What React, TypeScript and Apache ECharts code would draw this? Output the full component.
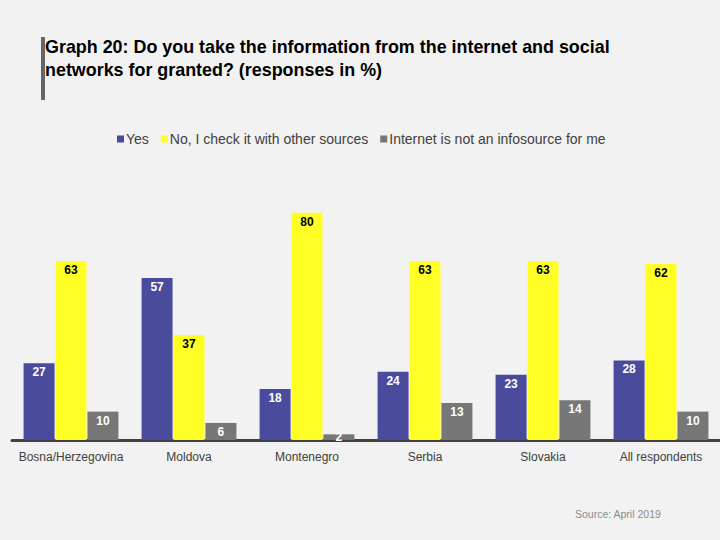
import React, { useEffect, useRef } from "react";
import * as echarts from "echarts";

const categories = ["Bosna/Herzegovina", "Moldova", "Montenegro", "Serbia", "Slovakia", "All respondents"];
const seriesNames = ["Yes", "No, I check it with other sources", "Internet is not an infosource for me"];
const yesValues = [27, 57, 18, 24, 23, 28];
const noValues = [63, 37, 80, 63, 63, 62];
const notSourceValues = [10, 6, 2, 13, 14, 10];
const colors = ["#4B4B9E", "#FFFF26", "#777777"];
const labelColors = ["#ffffff", "#000000", "#ffffff"];

export default function App() {
  const ref = useRef<HTMLDivElement>(null);
  useEffect(() => {
    if (!ref.current) return;
    const chart = echarts.init(ref.current, null, { renderer: "svg" });
    const all = [yesValues, noValues, notSourceValues];
    const series = all.map((vals, i) => ({
      name: seriesNames[i],
      type: "bar",
      barWidth: 31,
      barGap: "3%",
      itemStyle: { color: colors[i] },
      label: {
        show: true,
        position: "insideTop",
        distance: 3,
        color: labelColors[i],
        fontWeight: "bold",
        fontSize: 12,
        fontFamily: "Liberation Sans, Arial, sans-serif",
      },
      data: vals.map((v) =>
        v < 5 ? { value: v, label: { position: "top", distance: -9 } } : v
      ),
    }));
    chart.setOption({
      animation: false,
      backgroundColor: "#f2f2f2",
      title: {
        text: "Graph 20: Do you take the information from the internet and social\nnetworks for granted? (responses in %)",
        left: 45,
        top: 35,
        padding: 0,
        textStyle: {
          fontFamily: "Liberation Sans, Arial, sans-serif",
          fontWeight: "bold",
          fontSize: 17.9,
          lineHeight: 23,
          color: "#000000",
        },
      },
      graphic: [
        { type: "rect", shape: { x: 41, y: 37, width: 4, height: 63 }, style: { fill: "#666666" } },
        {
          type: "text",
          left: 575,
          top: 508,
          style: {
            text: "Source: April 2019",
            fill: "#8c8c8c",
            font: "10.5px Liberation Sans, Arial, sans-serif",
          },
        },
      ],
      legend: {
        top: 127,
        left: 112,
        itemWidth: 7,
        itemHeight: 7,
        itemGap: 12,
        icon: "rect",
        textStyle: {
          fontFamily: "Liberation Sans, Arial, sans-serif",
          fontSize: 14,
          color: "#404040",
          padding: [0, 0, 0, -3],
        },
        data: seriesNames,
      },
      grid: { left: 12, right: 0, top: 156, bottom: 100, containLabel: false },
      xAxis: {
        type: "category",
        data: categories,
        axisLine: { show: true, lineStyle: { color: "#404040", width: 3 } },
        axisTick: { show: false },
        axisLabel: {
          interval: 0,
          fontFamily: "Liberation Sans, Arial, sans-serif",
          fontSize: 12,
          color: "#404040",
          margin: 11,
        },
      },
      yAxis: {
        type: "value",
        min: 0,
        max: 100,
        show: false,
        splitLine: { show: false },
      },
      series,
    });
    return () => chart.dispose();
  }, []);
  return <div ref={ref} style={{ width: 720, height: 540, position: "absolute", left: 0, top: 0 }} />;
}
